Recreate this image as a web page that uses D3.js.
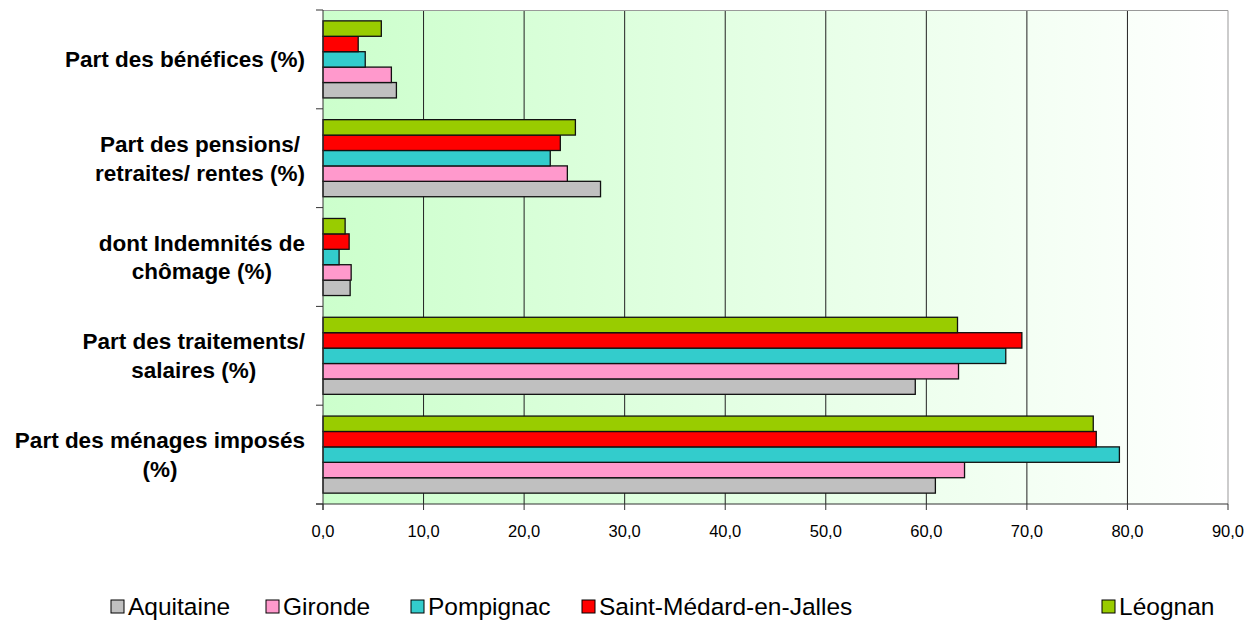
<!DOCTYPE html>
<html>
<head>
<meta charset="utf-8">
<script src="https://cdn.jsdelivr.net/npm/d3@7"></script>
<style>
  body { margin: 0; background: #fff; }
  text { font-family: "Liberation Sans", Arial, sans-serif; }
</style>
</head>
<body>
<svg id="chart" width="1257" height="644"></svg>
<script>
// categories, top to bottom
const categories = [
  "Part des bénéfices (%)",
  "Part des pensions/|retraites/ rentes (%)",
  "dont Indemnités de|chômage (%)",
  "Part des traitements/|salaires (%)",
  "Part des ménages imposés|(%)"
]
const seriesNames = ["Aquitaine", "Gironde", "Pompignac", "Saint-Médard-en-Jalles", "Léognan"]
const seriesColors = ["#c0c0c0", "#ff99cc", "#33cccc", "#ff0000", "#99cc00"]

// values per category, same order as seriesNames
const aquitaine = [7.3, 27.6, 2.7, 58.9, 60.9]
const gironde   = [6.8, 24.3, 2.8, 63.2, 63.8]
const pompignac = [4.2, 22.6, 1.6, 67.9, 79.2]
const stMedard  = [3.5, 23.6, 2.6, 69.5, 76.9]
const leognan   = [5.8, 25.1, 2.2, 63.1, 76.6]
const seriesValues = [aquitaine, gironde, pompignac, stMedard, leognan]

const xTicks = [0, 10, 20, 30, 40, 50, 60, 70, 80, 90]

const margin = { top: 10, left: 323, right: 29, bottom: 140 }
const width = 1257, height = 644
const innerW = width - margin.left - margin.right
const innerH = height - margin.top - margin.bottom

const svg = d3.select("#chart")
const g = svg.append("g").attr("transform", `translate(${margin.left},${margin.top})`)

const x = d3.scaleLinear().domain([0, 90]).range([0, innerW])
const y = d3.scaleBand().domain(categories).range([0, innerH]).paddingInner(0.22).paddingOuter(0.11)
// bars drawn top to bottom: Léognan first
const drawOrder = seriesNames.slice().reverse()
const ySub = d3.scaleBand().domain(drawOrder).range([0, y.bandwidth()])

// background gradient
const grad = svg.append("defs").append("linearGradient").attr("id", "bg")
  .attr("x1", "0%").attr("x2", "100%").attr("y1", "0%").attr("y2", "0%")
grad.append("stop").attr("offset", "0%").attr("stop-color", "#ccffcc")
grad.append("stop").attr("offset", "100%").attr("stop-color", "#ffffff")

g.append("rect").attr("width", innerW).attr("height", innerH).attr("fill", "url(#bg)")

// grid lines
g.selectAll(".grid").data(xTicks.slice(1, -1)).join("line").attr("class", "grid")
  .attr("x1", d => x(d)).attr("x2", d => x(d)).attr("y1", 0).attr("y2", innerH)
  .attr("stroke", "#222").attr("stroke-width", 1)

// plot border (top and right)
g.append("path").attr("d", `M0,0.5H${innerW}V${innerH}`).attr("fill", "none").attr("stroke", "#999")

// bars
const rows = []
categories.forEach((c, ci) => {
  seriesNames.forEach((s, si) => rows.push({ cat: c, name: s, value: seriesValues[si][ci], color: seriesColors[si] }))
})
g.selectAll(".bar").data(rows).join("rect").attr("class", "bar")
  .attr("x", 0)
  .attr("y", d => y(d.cat) + ySub(d.name))
  .attr("width", d => x(d.value))
  .attr("height", ySub.bandwidth())
  .attr("fill", d => d.color)
  .attr("stroke", "#111").attr("stroke-width", 1.3)

// y axis
const yEdges = d3.range(categories.length + 1).map(i => i * innerH / categories.length)
g.append("line").attr("x1", 0).attr("x2", 0).attr("y1", 0).attr("y2", innerH + 6).attr("stroke", "#333")
g.selectAll(".ytick").data(yEdges).join("line").attr("class", "ytick")
  .attr("x1", -7).attr("x2", 0).attr("y1", d => d).attr("y2", d => d).attr("stroke", "#333")

// x axis
g.append("line").attr("x1", -7).attr("x2", innerW).attr("y1", innerH).attr("y2", innerH).attr("stroke", "#333")
g.selectAll(".xtick").data(xTicks).join("line").attr("class", "xtick")
  .attr("x1", d => x(d)).attr("x2", d => x(d)).attr("y1", innerH).attr("y2", innerH + 6).attr("stroke", "#333")
g.selectAll(".xlabel").data(xTicks).join("text").attr("class", "xlabel")
  .attr("x", d => x(d)).attr("y", innerH + 33)
  .attr("text-anchor", "middle").attr("font-size", 16.5).attr("fill", "#000")
  .text(d => d3.format(".1f")(d).replace(".", ","))

// category labels (centered block, right-aligned to axis)
const labelG = g.append("g")
categories.forEach(c => {
  const lines = c.split("|")
  const t = labelG.append("text").attr("font-size", 22.5).attr("font-weight", "bold").attr("fill", "#000")
  const cy = y(c) + y.bandwidth() / 2
  const lh = 28.7
  lines.forEach((ln, i) => {
    t.append("tspan").attr("x", 0).attr("y", cy + (i - (lines.length - 1) / 2) * lh + 8).text(ln)
  })
  const widths = t.selectAll("tspan").nodes().map(n => n.getComputedTextLength())
  const blockW = d3.max(widths)
  t.selectAll("tspan").attr("x", -18 - blockW / 2).attr("text-anchor", "middle")
})

// legend
const legendX = [111, 266, 411, 582, 1102]
const legend = svg.append("g").attr("transform", "translate(0,606)")
seriesNames.forEach((s, i) => {
  legend.append("rect").attr("x", legendX[i]).attr("y", -6).attr("width", 13).attr("height", 13)
    .attr("fill", seriesColors[i]).attr("stroke", "#000")
  legend.append("text").attr("x", legendX[i] + 17).attr("y", 9).attr("font-size", 24.5).attr("fill", "#000").text(s)
})
</script>
</body>
</html>
